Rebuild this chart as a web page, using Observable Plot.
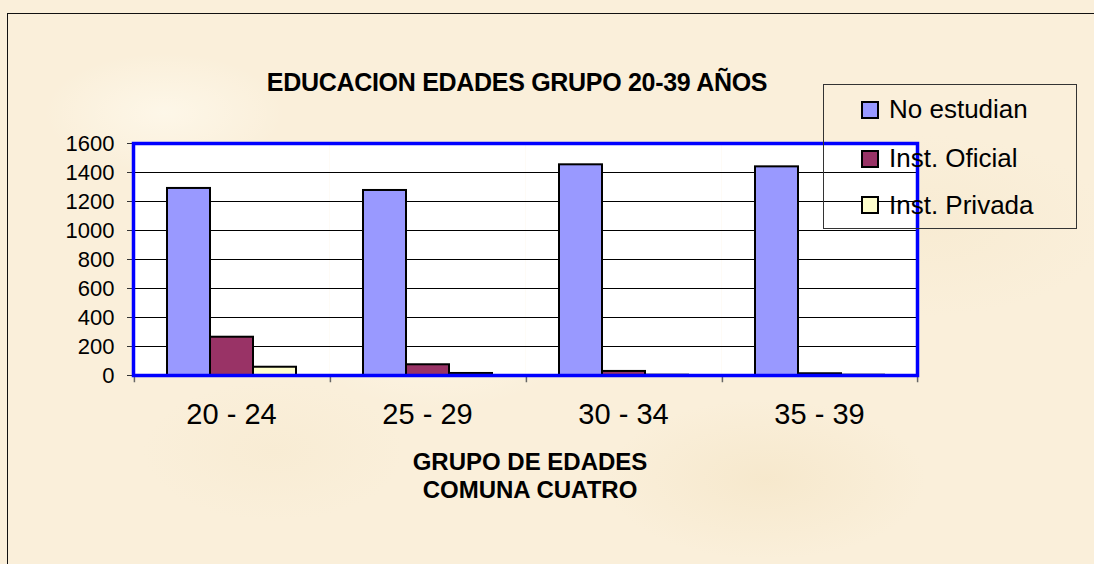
<!DOCTYPE html>
<html>
<head>
<meta charset="utf-8">
<script src="https://cdn.jsdelivr.net/npm/d3@7"></script>
<script src="https://cdn.jsdelivr.net/npm/@observablehq/plot@0.6"></script>
<style>
  html, body { margin: 0; padding: 0; }
  body {
    width: 1094px; height: 564px; overflow: hidden; position: relative;
    font-family: "Liberation Sans", Arial, sans-serif;
    background-color: #FAEFDA;
    background-image:
      radial-gradient(ellipse 120px 60px at 15% 20%, rgba(255,250,238,0.7), transparent),
      radial-gradient(ellipse 160px 80px at 70% 85%, rgba(244,228,196,0.6), transparent),
      radial-gradient(ellipse 140px 70px at 40% 60%, rgba(255,249,236,0.6), transparent),
      radial-gradient(ellipse 180px 90px at 85% 40%, rgba(246,232,204,0.5), transparent),
      radial-gradient(ellipse 130px 70px at 25% 80%, rgba(247,234,208,0.6), transparent);
  }
  #border { position: absolute; left: 7px; top: 13px; width: 1200px; height: 700px; border: 1.5px solid #111; box-sizing: border-box; }
  #chart { position: absolute; left: 0; top: 0; }
  #title { position: absolute; left: 0; width: 1034px; top: 70px; text-align: center; font-weight: bold; font-size: 25px; line-height: 25px; letter-spacing: -0.3px; color: #000; white-space: nowrap; }
  #xtitle { position: absolute; left: 0; width: 1060px; top: 448px; text-align: center; font-weight: bold; font-size: 24px; line-height: 28px; color: #000; white-space: nowrap; }
  #legend { position: absolute; left: 823px; top: 84px; width: 254px; height: 145px; border: 1.5px solid #333; box-sizing: border-box; }
  .item { position: absolute; left: 37px; height: 30px; display: flex; align-items: center; font-size: 26px; color: #000; white-space: nowrap; }
  .sw { width: 14px; height: 14px; border: 2px solid #000; margin-right: 10px; }
</style>
</head>
<body>
<div id="border"></div>
<div id="chart"></div>
<div id="title">EDUCACION EDADES GRUPO 20-39 AÑOS</div>
<div id="xtitle">GRUPO DE EDADES<br>COMUNA CUATRO</div>
<div id="legend"></div>
<script>
const groups = ["20 - 24", "25 - 29", "30 - 34", "35 - 39"];
const series = ["No estudian", "Inst. Oficial", "Inst. Privada"];
const noEstudian = [1290, 1276, 1453, 1439];
const instOficial = [264, 74, 28, 12];
const instPrivada = [57, 14, 2, 2];
const colors = ["#9999FF", "#993366", "#FFFFCC"];
const yTicks = [0, 200, 400, 600, 800, 1000, 1200, 1400, 1600];

const valuesBySeries = [noEstudian, instOficial, instPrivada];
const data = groups.flatMap((g, i) => series.map((s, j) => ({group: g, series: s, value: valuesBySeries[j][i]})));

const W = 1094, H = 564, mL = 132, mR = 176, mT = 143, mB = 189;
const facetW = (W - mL - mR) / groups.length;
const outerPad = 0.75;
const step = facetW / (series.length + 2 * outerPad);
const edgeOffset = step * (outerPad + 0.5);

const chart = Plot.plot({
  width: W, height: H,
  marginTop: mT, marginRight: mR, marginBottom: mB, marginLeft: mL,
  style: {background: "transparent", fontFamily: "'Liberation Sans', Arial, sans-serif", color: "#000"},
  fx: {domain: groups, padding: 0, label: null},
  x: {domain: series, paddingInner: 0, paddingOuter: outerPad, axis: null},
  y: {domain: [0, 1600], label: null},
  color: {domain: series, range: colors},
  marks: [
    Plot.frame({fill: "white"}),
    Plot.gridY(yTicks, {stroke: "#000", strokeOpacity: 1, strokeWidth: 1}),
    Plot.barY(data, {fx: "group", x: "series", y: "value", fill: "series", stroke: "#000", strokeWidth: 2}),
    Plot.axisY(yTicks, {tickSize: 6, tickPadding: 13, fontSize: 22, label: null, tickFormat: d => String(d), stroke: "#333"}),
    Plot.axisFx({anchor: "bottom", tickSize: 0, tickPadding: 28, fontSize: 29, label: null}),
    Plot.ruleX(groups.map(g => ({group: g})), {fx: "group", x: () => series[0], dx: -edgeOffset, y1: 0, y2: -50, stroke: "#666", strokeWidth: 1.5}),
    Plot.ruleX([{group: groups[groups.length - 1]}], {fx: "group", x: () => series[series.length - 1], dx: edgeOffset, y1: 0, y2: -50, stroke: "#666", strokeWidth: 1.5}),
    Plot.frame({facet: "super", stroke: "#0000FF", strokeWidth: 3.5})
  ]
});
document.getElementById("chart").appendChild(chart);

const legend = document.getElementById("legend");
const rowCenters = [24.5, 73.5, 120];
series.forEach((s, i) => {
  const item = document.createElement("div");
  item.className = "item";
  item.style.top = (rowCenters[i] - 15) + "px";
  const sw = document.createElement("div");
  sw.className = "sw";
  sw.style.background = colors[i];
  const label = document.createElement("span");
  label.textContent = s;
  item.appendChild(sw);
  item.appendChild(label);
  legend.appendChild(item);
});
</script>
</body>
</html>
